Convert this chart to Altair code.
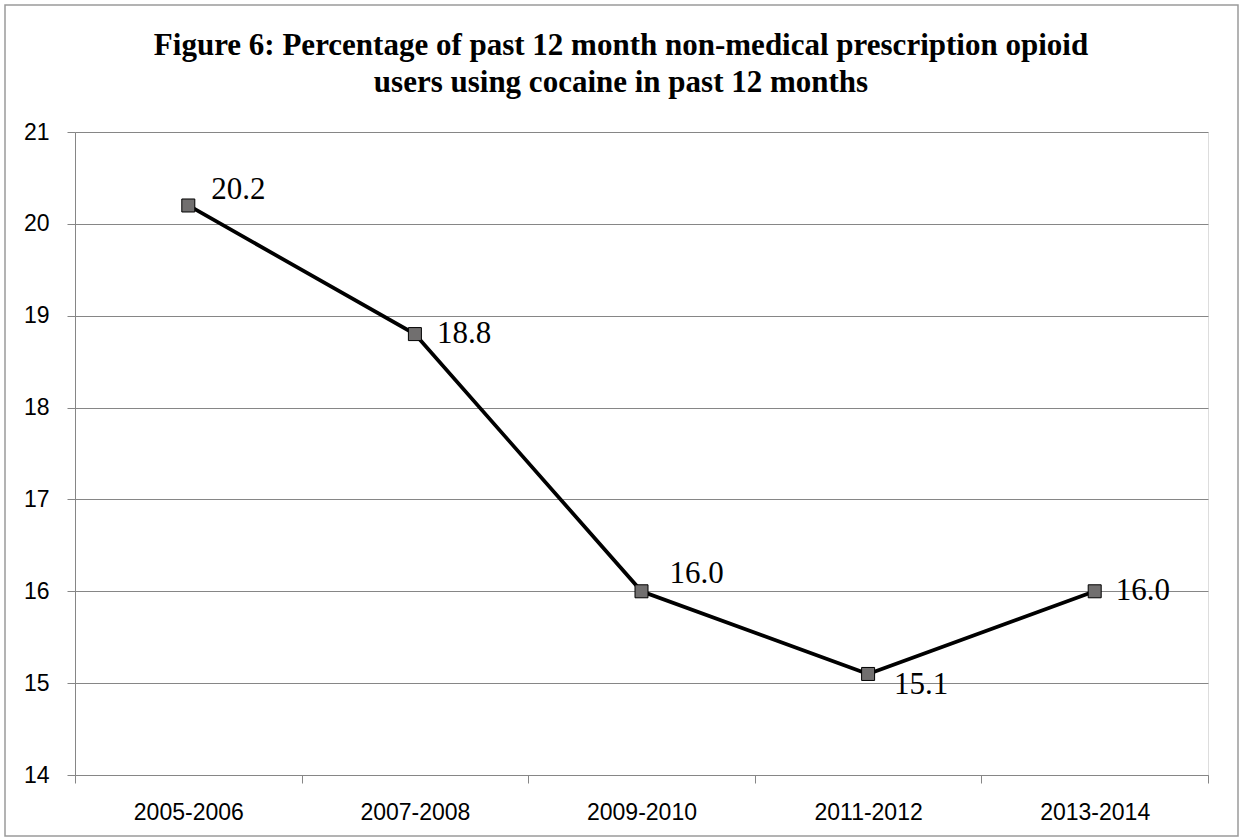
import altair as alt
import pandas as pd

# Survey periods and the share (%) of past-year non-medical opioid users who also used cocaine
periods = ["2005-2006", "2007-2008", "2009-2010", "2011-2012", "2013-2014"]
pct = [20.2, 18.8, 16.0, 15.1, 16.0]
y_ticks = [14, 15, 16, 17, 18, 19, 20, 21]

title_lines = [
    "Figure 6: Percentage of past 12 month non-medical prescription opioid",
    "users using cocaine in past 12 months",
]

df = pd.DataFrame({"period": periods, "pct": pct})
df["label"] = [f"{v:.1f}" for v in pct]

# where each value label sits relative to its marker (dx, dy in px)
label_style = {
    "2005-2006": (23, -15),
    "2007-2008": (22, 0),
    "2009-2010": (28, -17),
    "2011-2012": (26, 11),
    "2013-2014": (21, 0),
}

W, H = 1133, 643
GRAY = "#868686"
AXIS_FONT = "Liberation Sans"
SERIF = "Liberation Serif"

x_enc = alt.X(
    "period:N",
    sort=periods,
    scale=alt.Scale(type="band", paddingInner=0, paddingOuter=0),
    axis=alt.Axis(
        title=None,
        labelAngle=0,
        tickBand="extent",
        tickSize=8,
        tickColor=GRAY,
        domainColor=GRAY,
        labelFont=AXIS_FONT,
        labelFontSize=23,
        labelColor="black",
        labelPadding=18,
        grid=False,
    ),
)
y_enc = alt.Y(
    "pct:Q",
    scale=alt.Scale(domain=[14, 21], nice=False, zero=False),
    axis=alt.Axis(
        title=None,
        values=y_ticks,
        grid=True,
        gridColor=GRAY,
        tickSize=8,
        tickColor=GRAY,
        domainColor=GRAY,
        labelFont=AXIS_FONT,
        labelFontSize=23,
        labelColor="black",
        labelPadding=18,
    ),
)

base = alt.Chart(df)
first_row = base.transform_filter(alt.datum.period == periods[0])

line = base.mark_line(color="black", strokeWidth=3.75).encode(x=x_enc, y=y_enc)
points = base.mark_point(
    shape="square", filled=True, size=169, fill="#716f6f",
    stroke="black", strokeWidth=1, opacity=1,
).encode(x=x_enc, y=y_enc)

labels = []
for period, (dx, dy) in label_style.items():
    labels.append(
        base.transform_filter(alt.datum.period == period)
        .mark_text(font=SERIF, fontSize=31, color="black",
                   align="left", baseline="middle", dx=dx, dy=dy)
        .encode(x=x_enc, y=y_enc, text="label:N")
    )

# two-line bold heading, centred on the figure
heading = []
for i, txt in enumerate(title_lines):
    heading.append(
        first_row.mark_text(font=SERIF, fontSize=31, fontWeight="bold",
                            color="black", align="center", baseline="alphabetic")
        .encode(x=alt.value(546), y=alt.value(-77 + 37 * i), text=alt.value(txt))
    )

# thin frame around the whole figure
frame = first_row.mark_rect(fill=None, stroke="#9a9a9a", strokeWidth=1.5).encode(
    x=alt.value(-70), x2=alt.value(1163), y=alt.value(-127), y2=alt.value(704)
)

chart = (
    alt.layer(frame, line, points, *labels, *heading)
    .properties(
        width=W,
        height=H,
        autosize=alt.AutoSizeParams(type="none"),
        padding={"left": 75, "top": 132, "right": 35, "bottom": 64},
    )
    .configure_view(stroke=None)
    .configure(background="white")
)

chart.save("out.html", embed_options={"renderer": "svg", "actions": False})
